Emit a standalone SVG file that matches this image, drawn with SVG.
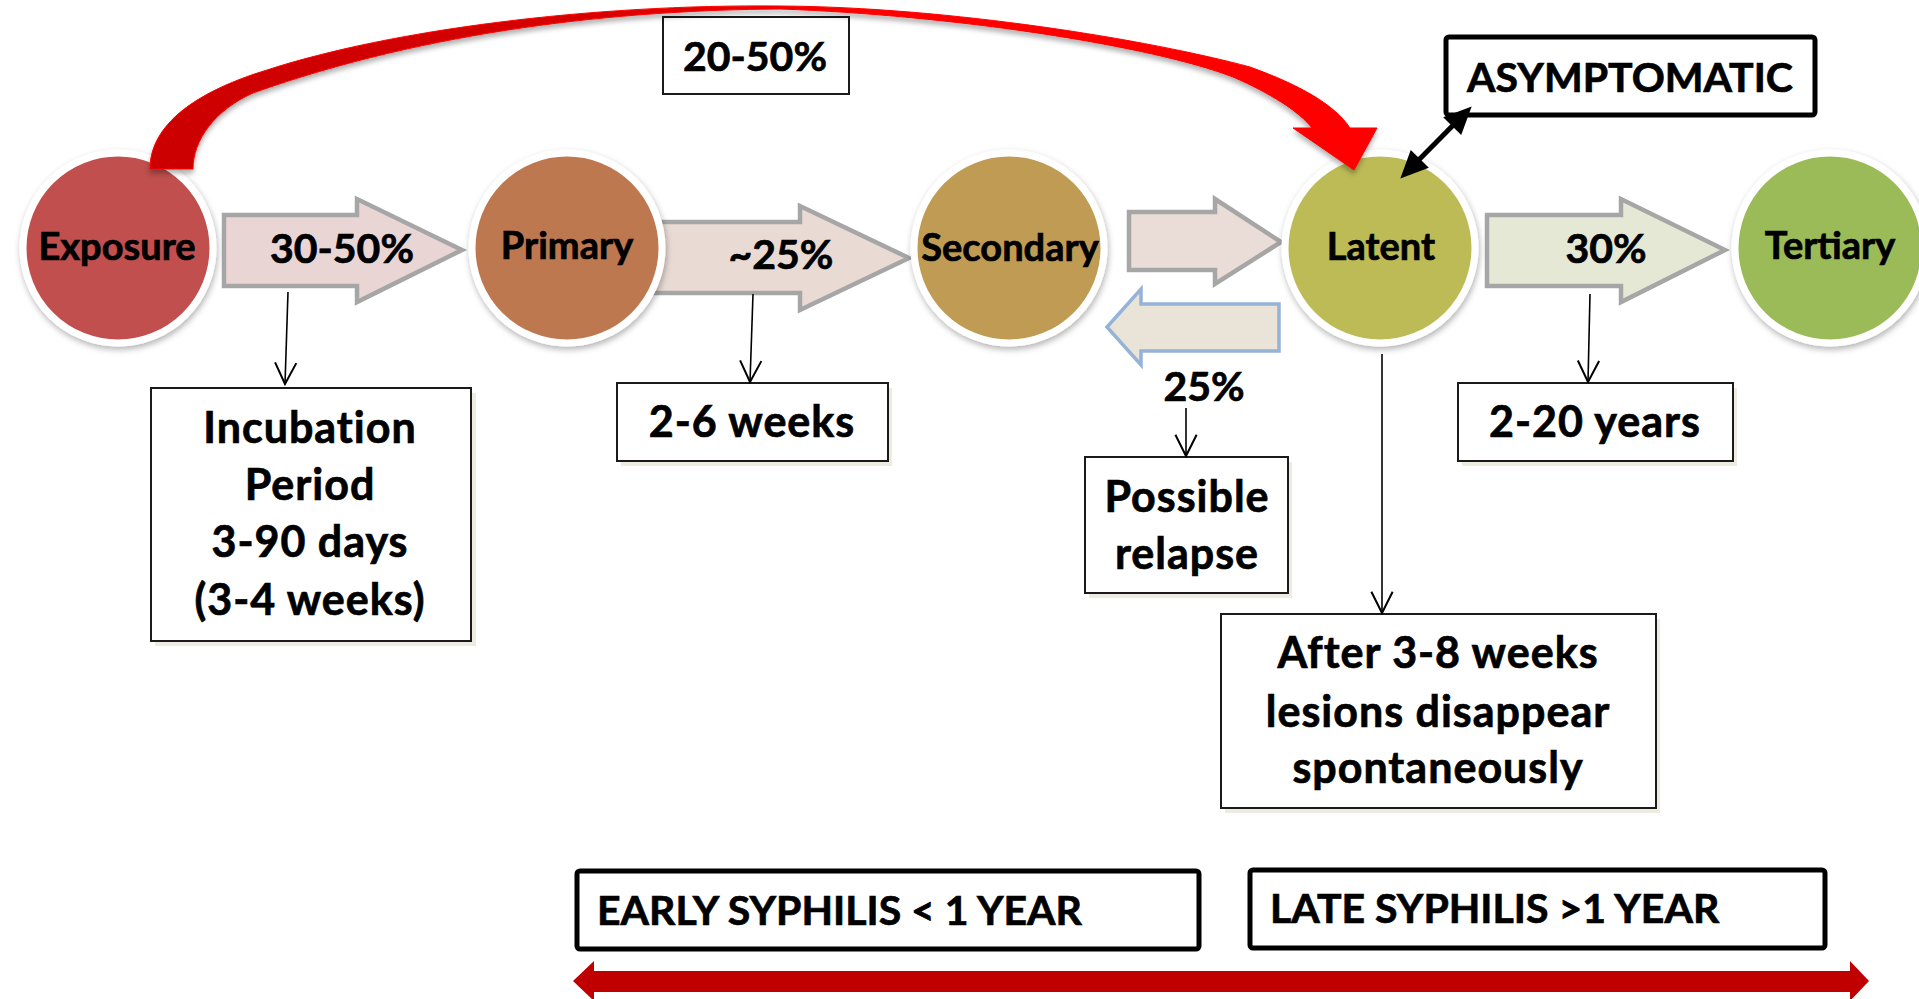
<svg xmlns="http://www.w3.org/2000/svg" width="1919" height="999" viewBox="0 0 1919 999">
  <defs>
    <style>
      text { font-family: "Lato", "Liberation Sans", sans-serif; font-weight: 700; fill: #000; stroke: #000; stroke-width: 0.7; }
      .stage { stroke: #fff; stroke-width: 7; filter: url(#ringShadow); }
      .stage-label { font-size: 38px; text-anchor: middle; }
      .lbl { font-size: 41px; text-anchor: middle; }
      .words { font-size: 43px; letter-spacing: 1px; text-anchor: middle; }
      .era { font-size: 41px; }
      .flow { stroke: #a6a6a6; stroke-width: 4.5; stroke-linejoin: miter; }
      .note { fill: #fff; stroke: #1a1a1a; stroke-width: 2; }
      .note-shadow { fill: #eeece1; }
      .heavy { fill: #fff; stroke: #000; stroke-width: 5; }
      .thin { stroke: #000; stroke-width: 1.6; fill: none; marker-end: url(#openHead); }
    </style>
    <filter id="ringShadow" x="-20%" y="-20%" width="140%" height="140%">
      <feDropShadow dx="1" dy="3" stdDeviation="3" flood-color="#000" flood-opacity="0.3"/>
    </filter>
    <filter id="bandShadow" x="-5%" y="-20%" width="110%" height="140%">
      <feDropShadow dx="0" dy="4" stdDeviation="2.5" flood-color="#000" flood-opacity="0.3"/>
    </filter>
    <linearGradient id="bandFill" x1="0" y1="0" x2="1" y2="0">
      <stop offset="0" stop-color="#cc0000"/>
      <stop offset="0.35" stop-color="#d60000"/>
      <stop offset="0.6" stop-color="#ff0000"/>
      <stop offset="1" stop-color="#ff0000"/>
    </linearGradient>
    <marker id="openHead" markerUnits="userSpaceOnUse" markerWidth="30" markerHeight="30" refX="0" refY="0" viewBox="-20 -12 24 24" orient="auto" overflow="visible">
      <path d="M-17,-8.5 L0,0 L-17,8.5" fill="none" stroke="#000" stroke-width="1.6"/>
    </marker>
    <marker id="solidHead" markerUnits="userSpaceOnUse" markerWidth="30" markerHeight="30" refX="9" refY="0" viewBox="0 -12 26 24" orient="auto-start-reverse" overflow="visible">
      <path d="M0,-11 L24,0 L0,11 Z" fill="#000"/>
    </marker>
  </defs>

  <rect width="1919" height="999" fill="#fff"/>

  <!-- block arrows between the stages -->
  <g id="flow-arrows">
    <polygon id="flow-exposure-primary" class="flow" fill="#ead5d5" points="224,215 357,215 357,199 462,250 357,302 357,286 224,286"/>
    <polygon id="flow-primary-secondary" class="flow" fill="#e9dad4" points="650,222 800,222 800,206 909,258 800,310 800,293 650,293"/>
    <polygon id="flow-secondary-latent" class="flow" fill="#eadcd6" points="1129,212 1215,212 1215,199 1281,242 1215,284 1215,270 1129,270"/>
    <polygon id="flow-latent-secondary" fill="#eae3d8" stroke="#95b3d7" stroke-width="3.5" points="1279,304 1141,304 1141,289 1107,327 1141,365 1141,351 1279,351"/>
    <polygon id="flow-latent-tertiary" class="flow" fill="#e6e8d6" points="1487,215 1621,215 1621,199 1725,250 1621,302 1621,286 1487,286"/>
    <text class="lbl" x="342" y="263">30-50%</text>
    <text class="lbl" x="781" y="269">~25%</text>
    <text class="lbl" x="1606" y="263">30%</text>
  </g>

  <!-- stages -->
  <g id="node-exposure">
    <circle class="stage" cx="118" cy="248" r="95" fill="#c0504d"/>
    <text class="stage-label" x="117" y="260">Exposure</text>
  </g>
  <g id="node-primary">
    <circle class="stage" cx="567" cy="248" r="95" fill="#be7850"/>
    <text class="stage-label" x="567" y="259">Primary</text>
  </g>
  <g id="node-secondary">
    <circle class="stage" cx="1009" cy="248" r="95" fill="#bf9b52"/>
    <text class="stage-label" x="1010" y="261">Secondary</text>
  </g>
  <g id="node-latent">
    <circle class="stage" cx="1380" cy="248" r="95" fill="#bdbb56"/>
    <text class="stage-label" x="1381" y="260">Latent</text>
  </g>
  <g id="node-tertiary">
    <circle class="stage" cx="1830" cy="248" r="95" fill="#9bbb59"/>
    <text class="stage-label" x="1830" y="259">Tertiary</text>
  </g>

  <!-- note boxes -->
  <g id="node-direct-rate">
    <rect class="note" x="663" y="17" width="186" height="77"/>
    <text class="lbl" x="755" y="71">20-50%</text>
  </g>
  <g id="node-asymptomatic">
    <rect class="heavy" x="1446" y="37" width="369" height="78" rx="3"/>
    <text class="lbl" x="1630" y="92">ASYMPTOMATIC</text>
  </g>
  <g id="node-incubation">
    <rect class="note-shadow" x="155" y="393" width="321" height="253"/>
    <rect class="note" x="151" y="388" width="320" height="253"/>
    <text class="words" x="310" y="443">Incubation</text>
    <text class="words" x="310" y="500">Period</text>
    <text class="words" x="310" y="557">3-90 days</text>
    <text class="words" x="310" y="615">(3-4 weeks)</text>
  </g>
  <g id="node-primary-duration">
    <rect class="note-shadow" x="621" y="388" width="271" height="78"/>
    <rect class="note" x="617" y="383" width="271" height="78"/>
    <text class="words" x="752" y="437">2-6 weeks</text>
  </g>
  <g id="node-relapse-rate">
    <text class="lbl" x="1204" y="401">25%</text>
  </g>
  <g id="node-relapse">
    <rect class="note-shadow" x="1089" y="462" width="203" height="136"/>
    <rect class="note" x="1085" y="457" width="203" height="136"/>
    <text class="words" x="1187" y="512">Possible</text>
    <text class="words" x="1187" y="569">relapse</text>
  </g>
  <g id="node-latent-duration">
    <rect class="note-shadow" x="1462" y="388" width="275" height="78"/>
    <rect class="note" x="1458" y="383" width="275" height="78"/>
    <text class="words" x="1595" y="437">2-20 years</text>
  </g>
  <g id="node-lesions">
    <rect class="note-shadow" x="1225" y="619" width="435" height="194"/>
    <rect class="note" x="1221" y="614" width="435" height="194"/>
    <text class="words" x="1438" y="668">After 3-8 weeks</text>
    <text class="words" x="1438" y="727">lesions disappear</text>
    <text class="words" x="1438" y="783">spontaneously</text>
  </g>
  <g id="node-early">
    <rect class="heavy" x="577" y="871" width="622" height="78" rx="3"/>
    <text class="era" x="597" y="925">EARLY SYPHILIS &lt; 1 YEAR</text>
  </g>
  <g id="node-late">
    <rect class="heavy" x="1250" y="870" width="575" height="78" rx="3"/>
    <text class="era" x="1270" y="923">LATE SYPHILIS &gt;1 YEAR</text>
  </g>

  <!-- connectors -->
  <g id="connectors">
    <path id="curve-exposure-latent" filter="url(#bandShadow)" fill="url(#bandFill)" stroke="#ff0000" stroke-width="1" d="M150,169 C150,125 195,92 267,70 C390,30 590,4 780,6 C950,7 1150,40 1250,67 C1300,85 1335,105 1350,128 L1377,128 L1354,170 L1293,128 L1312,128 C1300,112 1270,93 1233,77 C1150,45 950,15 780,9 C620,10 430,30 253,93 C215,110 193,140 193,169 Z"/>
    <line x1="1412.5" y1="166.3" x2="1459.5" y2="118.7" stroke="#000" stroke-width="5" marker-start="url(#solidHead)" marker-end="url(#solidHead)"/>
    <line class="thin" x1="288" y1="292" x2="285" y2="384"/>
    <line class="thin" x1="753" y1="294" x2="750" y2="382"/>
    <line class="thin" x1="1590" y1="294" x2="1588" y2="382"/>
    <line class="thin" x1="1186" y1="408" x2="1186" y2="456"/>
    <line class="thin" x1="1382" y1="354" x2="1382" y2="613"/>
    <polygon id="timeline" fill="#c00000" points="573,981 594,961 594,971 1850,971 1850,961 1869,981 1850,1001 1850,992 594,992 594,1001"/>
  </g>
</svg>
